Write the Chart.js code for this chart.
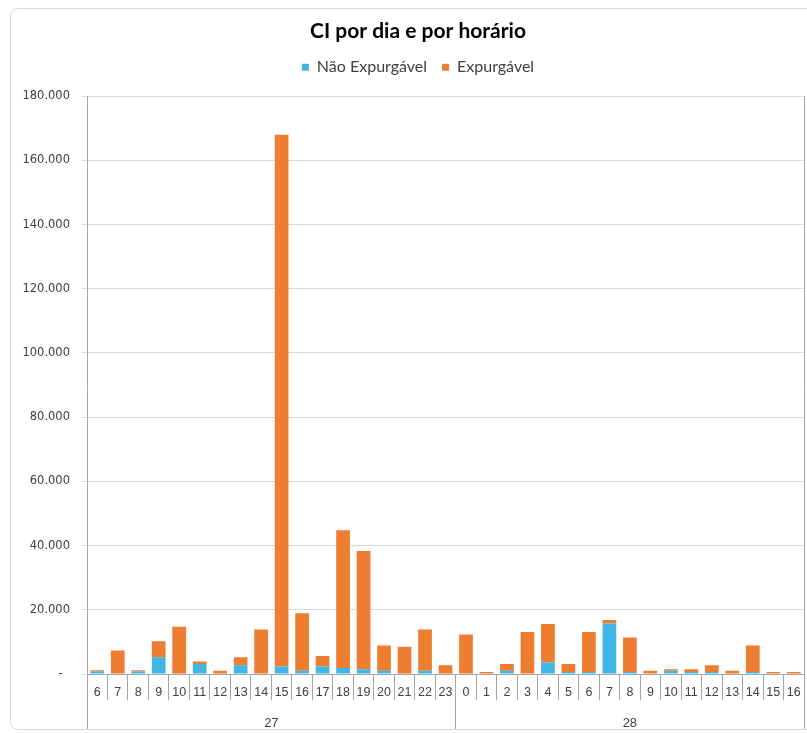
<!DOCTYPE html>
<html>
<head>
<meta charset="utf-8">
<script src="https://cdn.jsdelivr.net/npm/chart.js@4.4.0/dist/chart.umd.min.js"></script>
<style>
body{margin:0;background:#fff;overflow:hidden;}
#wrap{position:absolute;left:10px;top:8px;width:814px;height:720px;border:1px solid #d9d9d9;border-radius:8px;background:#fff;}
</style>
</head>
<body>
<div id="wrap"><canvas id="chart"></canvas></div>
<script>
// horas por dia (27 e 28)
const hours = ['6','7','8','9','10','11','12','13','14','15','16','17','18','19','20','21','22','23',
               '0','1','2','3','4','5','6','7','8','9','10','11','12','13','14','15','16'];
const dayLabels = ['27','28'];
const hoursPerDay = [18,17];

const naoExpurgavel = [800,0,800,5200,0,3100,0,2700,0,2300,1000,2300,1900,1500,1000,0,1000,0,
                       0,0,1000,0,3600,600,600,15700,600,0,1000,600,600,0,600,0,0];
const expurgavel = [400,7300,400,5000,14700,800,1000,2500,13900,165700,17900,3300,42900,36800,7900,8500,12900,2700,
                    12300,600,2100,13100,12000,2500,12500,1100,10800,1000,500,900,2100,1000,8300,600,600];

const yTicks = [0,20000,40000,60000,80000,100000,120000,140000,160000,180000];

// divisorias e centro de cada dia (em indice de categoria)
const dayBounds = [-0.5];
const dayCenters = [];
let acc = 0;
hoursPerDay.forEach(n => {
    dayCenters.push(acc + (n-1)/2);
    acc += n;
    dayBounds.push(acc - 0.5);
});
const dayTicks = dayBounds.concat(dayCenters).sort((a,b)=>a-b);

function fmt(v){
    if(v === 0) return '-  ';
    return String(v).replace(/\B(?=(\d{3})+(?!\d))/g,'.');
}

const font = "Lato, 'Open Sans', sans-serif";
const axisFont = "'Liberation Sans', Arial, sans-serif";
const axisColor = '#a6a6a6';

// espaco extra abaixo da legenda
const legendGap = {
    id:'legendGap',
    beforeInit(chart){
        const fit = chart.legend.fit;
        chart.legend.fit = function(){ fit.call(this); this.height += 11; };
    }
};

new Chart(document.getElementById('chart'), {
    type: 'bar',
    data: {
        labels: hours,
        datasets: [
            {label:'Não Expurgável', data:naoExpurgavel, backgroundColor:'#41B6E6', xAxisID:'x', yAxisID:'y'},
            {label:'Expurgável', data:expurgavel, backgroundColor:'#ED7D31', xAxisID:'x', yAxisID:'y'}
        ]
    },
    plugins:[legendGap],
    options: {
        responsive:true,
        maintainAspectRatio:false,
        devicePixelRatio:1,
        animation:false,
        datasets:{bar:{categoryPercentage:1, barPercentage:0.67}},
        layout:{padding:0},
        plugins:{
            title:{display:true, text:'CI por dia e por horário', color:'#000',
                   font:{family:font, size:21, weight:'bold'}, padding:{top:10, bottom:0}},
            legend:{display:true, position:'top',
                    labels:{boxWidth:7, boxHeight:7, color:'#404040', font:{family:font, size:16}, padding:15}},
            tooltip:{enabled:false}
        },
        scales:{
            x:{type:'category', position:'bottom', stacked:true, offset:true, weight:0,
               grid:{offset:true, drawOnChartArea:false, drawTicks:true, tickLength:26, color:axisColor},
               border:{color:axisColor},
               ticks:{autoSkip:false, maxRotation:0, minRotation:0, padding:-15, color:'#404040', font:{family:axisFont, size:12.5}},
               afterFit: s => { s.height = 26; }
            },
            day:{type:'linear', position:'bottom', weight:1, min:-0.5, max:hours.length-0.5, offset:false,
               grid:{offset:false, drawOnChartArea:false, drawTicks:true, tickLength:29,
                     color: ctx => dayBounds.includes(ctx.tick && ctx.tick.value) ? axisColor : 'rgba(0,0,0,0)'},
               border:{display:false},
               ticks:{autoSkip:false, maxRotation:0, padding:-13, color:'#404040', font:{family:axisFont, size:13},
                      callback: v => { const i = dayCenters.indexOf(v); return i >= 0 ? dayLabels[i] : ''; }},
               afterBuildTicks: s => { s.ticks = dayTicks.map(v => ({value:v})); },
               afterFit: s => { s.height = 29; }
            },
            y:{stacked:true, min:0, max:180000,
               grid:{color:'#d9d9d9', tickLength:5},
               border:{color:axisColor},
               ticks:{padding:12, color:'#404040', font:{family:"'DejaVu Sans', sans-serif", size:11.5},
                      callback: v => fmt(v)},
               afterBuildTicks: s => { s.ticks = yTicks.map(v => ({value:v})); },
               afterFit: s => { s.width = 76; }
            },
            yRight:{position:'right', display:true,
               grid:{drawOnChartArea:false, drawTicks:false},
               border:{color:axisColor},
               ticks:{display:false},
               afterFit: s => { s.width = 21; }
            }
        }
    }
});
</script>
</body>
</html>
